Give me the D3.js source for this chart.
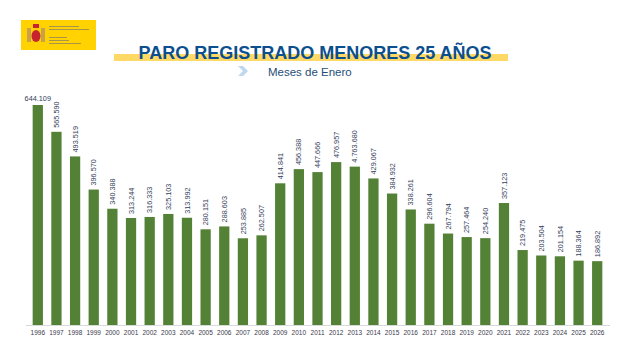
<!DOCTYPE html>
<html>
<head>
<meta charset="utf-8">
<script src="https://cdn.jsdelivr.net/npm/d3@7"></script>
<style>
  body { margin: 0; background: #fff; }
  svg { display: block; font-family: 'Liberation Sans', Arial, sans-serif; }
</style>
</head>
<body>
<svg id="chart"></svg>
<script>
const years = ['1996','1997','1998','1999','2000','2001','2002','2003','2004','2005','2006',
  '2007','2008','2009','2010','2011','2012','2013','2014','2015','2016','2017','2018','2019',
  '2020','2021','2022','2023','2024','2025','2026']
const values = [644109, 565590, 493519, 396570, 340388, 313244, 316333, 325103, 313992, 280151,
  288603, 253885, 262507, 414841, 456388, 447666, 476957, 463680, 429067, 384932, 338261,
  296604, 267794, 257464, 254240, 357123, 219475, 203504, 201154, 188364, 186892]
const labels = ['644.109','565.590','493.519','396.570','340.388','313.244','316.333','325.103',
  '313.992','280.151','288.603','253.885','262.507','414.841','456.388','447.666','476.957',
  '4.763.680','429.067','384.932','338.261','296.604','267.794','257.464','254.240','357.123',
  '219.475','203.504','201.154','188.364','186.892']

const W = 625, H = 361
const GREEN = '#538135'
const BLUE = '#0b4f8f'

const svg = d3.select('#chart').attr('width', W).attr('height', H)

// logo block
const logo = svg.append('g')
logo.append('rect').attr('x', 21).attr('y', 20).attr('width', 75).attr('height', 30).attr('fill', '#ffd200')
logo.append('rect').attr('x', 27).attr('y', 28).attr('width', 4).attr('height', 14).attr('fill', '#c9a14a')
logo.append('rect').attr('x', 41).attr('y', 28).attr('width', 4).attr('height', 14).attr('fill', '#c9a14a')
logo.append('ellipse').attr('cx', 36).attr('cy', 36).attr('rx', 4.5).attr('ry', 6).attr('fill', '#c8242f')
logo.append('rect').attr('x', 33).attr('y', 24).attr('width', 6).attr('height', 4).attr('fill', '#c8242f')
const logoLines = [[49, 26, 30], [49, 29, 40], [49, 37, 18], [49, 40, 20], [49, 43, 32]]
logo.selectAll('rect.l').data(logoLines).join('rect')
  .attr('x', d => d[0]).attr('y', d => d[1]).attr('width', d => d[2]).attr('height', 1)
  .attr('fill', '#a8944a')

// title
svg.append('rect').attr('x', 114).attr('y', 54).attr('width', 394).attr('height', 7).attr('fill', '#ffd966')
svg.append('text')
  .attr('x', 315).attr('y', 59)
  .attr('text-anchor', 'middle')
  .attr('font-size', 18).attr('font-weight', 'bold')
  .attr('fill', BLUE)
  .text('PARO REGISTRADO MENORES 25 AÑOS')
svg.append('path')
  .attr('d', 'M238,66 L243,66 L248,71 L243,76 L238,76 L243,71 Z')
  .attr('fill', '#bdd7ee')
svg.append('text')
  .attr('x', 268).attr('y', 76)
  .attr('font-size', 11.5)
  .attr('fill', '#1f4e79')
  .text('Meses de Enero')

// bars
const x = d3.scaleBand().domain(years).range([28, 607]).paddingInner(0.45).paddingOuter(0.25)
const y = d3.scaleLinear().domain([0, 644109]).range([325, 105])

svg.append('g')
  .selectAll('rect')
  .data(values)
  .join('rect')
    .attr('x', (d, i) => x(years[i]))
    .attr('y', d => y(d))
    .attr('width', x.bandwidth())
    .attr('height', d => y(0) - y(d))
    .attr('fill', GREEN)

// value labels (first horizontal, rest rotated)
svg.append('g')
  .selectAll('text')
  .data(values)
  .join('text')
    .attr('transform', (d, i) => {
      const cx = x(years[i]) + x.bandwidth() / 2
      return i === 0 ? `translate(${cx},${y(d) - 4})` : `translate(${cx + 2.6},${y(d) - 4}) rotate(-90)`
    })
    .attr('text-anchor', (d, i) => i === 0 ? 'middle' : 'start')
    .attr('font-size', 7.3)
    .attr('fill', '#33405a')
    .text((d, i) => labels[i])

// x axis
const axis = svg.append('g').attr('transform', 'translate(0,325)')
  .call(d3.axisBottom(x).tickSize(0).tickPadding(5))
axis.select('.domain').attr('stroke', '#d9d9d9').attr('d', 'M26,0.5H610')
axis.selectAll('text').attr('font-size', 6.5).attr('fill', '#3a3a4a')
  .attr('font-family', "'Liberation Sans', Arial, sans-serif")
</script>
</body>
</html>
